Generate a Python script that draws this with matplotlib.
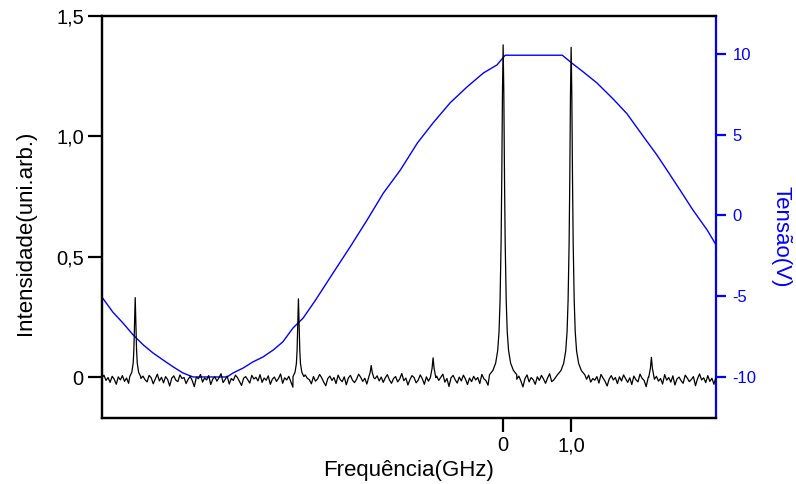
import matplotlib
matplotlib.use('Agg')
import matplotlib.pyplot as plt
import numpy as np

plt.rcParams['font.family'] = ['Liberation Sans', 'DejaVu Sans']

# spectrum baseline, sampled evenly over the scan (units of 1e-3)
x_start = -5.90
x_end = 3.13
baseline_noise = [
    -5, 8, -14, -2, -22, 3, -9, -30, 1, -12, 6, -18, -4, -26, 10, -7, -15, 0, -33, -6,
    4, -11, -20, 7, -3, -28, -8, 12, -16, -1, -24, 2, -10, -37, -5, 5, -13, -19, 9, -6,
    -2, -27, -9, 3, -15, -40, 0, -7, 11, -21, -4, -12, 6, -31, -8, 1, -17, -3, 14, -23,
    -10, 4, -29, -6, -14, 8, -2, -19, -35, -5, 2, -11, -25, 7, -8, -1, -16, 10, -22, -4,
    -13, 5, -30, -9, 0, -18, -6, 13, -26, -3, -12, 3, -20, -42, -7, 6, -15, -1, -24, 9,
    -5, -11, -28, 2, -17, -8, 11, -3, -21, -36, -6, 4, -14, -2, -27, 8, -10, -19, 1, -32,
    -4, 7, -13, -23, -9, 12, -1, -18, -5, -29, 3, -11, -38, -7, 5, -16, 0, -22, -3, 10,
    -12, -26, -6, 2, -20, -8, 15, -15, -4, -33, -10, 6, -2, -24, -13, 9, -7, -30, 1, -17,
    -5, -9, -28, 4, -14, -1, 12, -21, -6, -39, -3, 7, -11, -25, 0, -16, 8, -8, -31, -4,
    -19, 3, -12, -2, -27, 11, -7, -15, -34, 5, -10, -1, -22, 6, -18, -5, -29, 2, -13, 13,
    -3, -24, -9, 4, -16, -41, -6, 9, -20, -2, -11, -30, 1, -14, 7, -8, -26, -4, 14, -19,
    -12, 0, -35, -7, 5, -17, -3, -23, 10, -10, -28, -5, 3, -15, -1, -32, -9, 8, -21, -6,
    -13, 2, -25, 11, -4, -18, -37, -8, 6, -12, -2, -27, 1, -16, 9, -7, -22, -3, -31, 4,
    -11, -20, 12, -5, -14, -40, -1, 7, -24, -9, 3, -17, -6, -29, 10, -13, -2, -21, 5, -33,
    -8, 0, -15, -26, 8, -4, -19, -10, 2, -36, -7, 13, -12, -3, -23, 6, -18, -5, -30, 1,
]

# main transmission peaks (GHz offsets from centre, intensity)
big_dx = [-0.20, -0.15, -0.11, -0.08, -0.06, -0.045, -0.03, -0.02, -0.01, 0.0,
          0.01, 0.02, 0.03, 0.045, 0.06, 0.08, 0.11, 0.15, 0.20]
peak_0_y = [0.010, 0.028, 0.058, 0.110, 0.190, 0.320, 0.560, 0.830, 1.180, 1.380,
            1.180, 0.830, 0.560, 0.320, 0.190, 0.110, 0.058, 0.028, 0.010]
peak_1_y = [0.010, 0.027, 0.057, 0.108, 0.188, 0.318, 0.555, 0.825, 1.170, 1.370,
            1.170, 0.825, 0.555, 0.318, 0.188, 0.108, 0.057, 0.027, 0.010]
big_centers = [0.0, 1.0]

# secondary peaks
mid_dx = [-0.08, -0.05, -0.03, -0.02, -0.01, 0.0, 0.01, 0.02, 0.03, 0.05, 0.08]
peak_a_y = [0.002, 0.020, 0.058, 0.112, 0.222, 0.330, 0.222, 0.112, 0.058, 0.020, 0.002]
peak_b_y = [0.002, 0.020, 0.056, 0.110, 0.220, 0.325, 0.220, 0.110, 0.056, 0.020, 0.002]
mid_centers = [-5.41, -3.01]

# small side bumps
small_dx = [-0.04, -0.015, 0.0, 0.015, 0.04]
small_centers = [-1.94, -1.03, 2.18]
small_y = [
    [-0.004, 0.020, 0.048, 0.020, -0.004],
    [-0.002, 0.036, 0.080, 0.036, -0.002],
    [-0.002, 0.036, 0.082, 0.036, -0.002],
]

# piezo ramp voltage (GHz, V)
ramp_x = [-5.90, -5.74, -5.59, -5.44, -5.29, -5.15, -5.00, -4.85, -4.71, -4.56,
          -4.06, -3.97, -3.82, -3.68, -3.53, -3.38, -3.24, -3.09, -2.94, -2.76,
          -2.50, -2.25, -2.00, -1.76, -1.51, -1.26, -1.03, -0.78, -0.53, -0.29,
          -0.09, 0.03, 0.87, 0.99, 1.18, 1.38, 1.62, 1.82, 2.06, 2.26,
          2.41, 2.60, 2.79, 3.00, 3.13]
ramp_v = [-5.05, -5.98, -6.66, -7.40, -8.02, -8.51, -8.95, -9.38, -9.75, -10.0,
          -10.0, -9.75, -9.44, -9.07, -8.76, -8.33, -7.83, -6.97, -6.35, -5.25,
          -3.56, -1.95, -0.28, 1.39, 2.82, 4.49, 5.73, 6.97, 7.96, 8.82,
          9.32, 9.92, 9.92, 9.50, 8.88, 8.20, 7.20, 6.30, 4.90, 3.75,
          2.80, 1.58, 0.34, -0.90, -1.82]

left_ticks = [0, 0.5, 1.0, 1.5]
left_labels = ['0', '0,5', '1,0', '1,5']
bottom_ticks = [0, 1.0]
bottom_labels = ['0', '1,0']
right_ticks = [-10, -5, 0, 5, 10]
right_labels = ['-10', '-5', '0', '5', '10']


def build_trace():
    xs = np.linspace(x_start, x_end, len(baseline_noise))
    ys = np.array(baseline_noise) * 1e-3
    keep = np.ones(len(xs), dtype=bool)
    extra_x = []
    extra_y = []
    groups = []
    for c, py in zip(big_centers, [peak_0_y, peak_1_y]):
        groups.append((c, big_dx, py))
    for c, py in zip(mid_centers, [peak_a_y, peak_b_y]):
        groups.append((c, mid_dx, py))
    for c, py in zip(small_centers, small_y):
        groups.append((c, small_dx, py))
    for c, dx, py in groups:
        keep &= np.abs(xs - c) > max(dx)
        extra_x += [c + d for d in dx]
        extra_y += list(py)
    all_x = np.concatenate([xs[keep], extra_x])
    all_y = np.concatenate([ys[keep], extra_y])
    order = np.argsort(all_x)
    return all_x[order], all_y[order]


blue = '#0000ff'
fig = plt.figure(figsize=(7.96, 4.84), dpi=100)
ax = fig.add_axes([0.128, 0.1364, 0.7715, 0.8306])
ax2 = ax.twinx()

tx, ty = build_trace()
ax.plot(tx, ty, color='black', lw=0.9, zorder=3)
ax2.plot(ramp_x, ramp_v, color=blue, lw=1.0)
ax.set_zorder(ax2.get_zorder() + 1)
ax.patch.set_visible(False)

ax.set_xlim(x_start, x_end)
ax.set_ylim(-0.17, 1.5)
ax2.set_ylim(-12.54, 12.35)

ax.set_yticks(left_ticks)
ax.set_yticklabels(left_labels)
ax.set_xticks(bottom_ticks)
ax.set_xticklabels(bottom_labels)
ax2.set_yticks(right_ticks)
ax2.set_yticklabels(right_labels)

for s in ['left', 'bottom', 'top']:
    ax.spines[s].set_linewidth(1.6)
    ax2.spines[s].set_linewidth(1.6)
ax.spines['right'].set_visible(False)
ax2.spines['right'].set_color(blue)
ax2.spines['right'].set_linewidth(1.6)

ax.tick_params(axis='both', direction='out', length=10, width=1.6,
               labelsize=14.5, pad=3)
ax.tick_params(axis='y', right=False)
ax2.tick_params(axis='y', direction='out', length=7, width=1.6, colors=blue,
                labelsize=12, pad=5)

ax.set_xlabel('Frequência(GHz)', fontsize=16)
ax.set_ylabel('Intensidade(uni.arb.)', fontsize=16)
ax2.set_ylabel('Tensão(V)', fontsize=16, color=blue, rotation=270)
ax.xaxis.set_label_coords(0.5, -0.105)
ax.yaxis.set_label_coords(-0.108, 0.46)
ax2.yaxis.set_label_coords(1.123, 0.45)

fig.savefig('out.png', dpi=100)
